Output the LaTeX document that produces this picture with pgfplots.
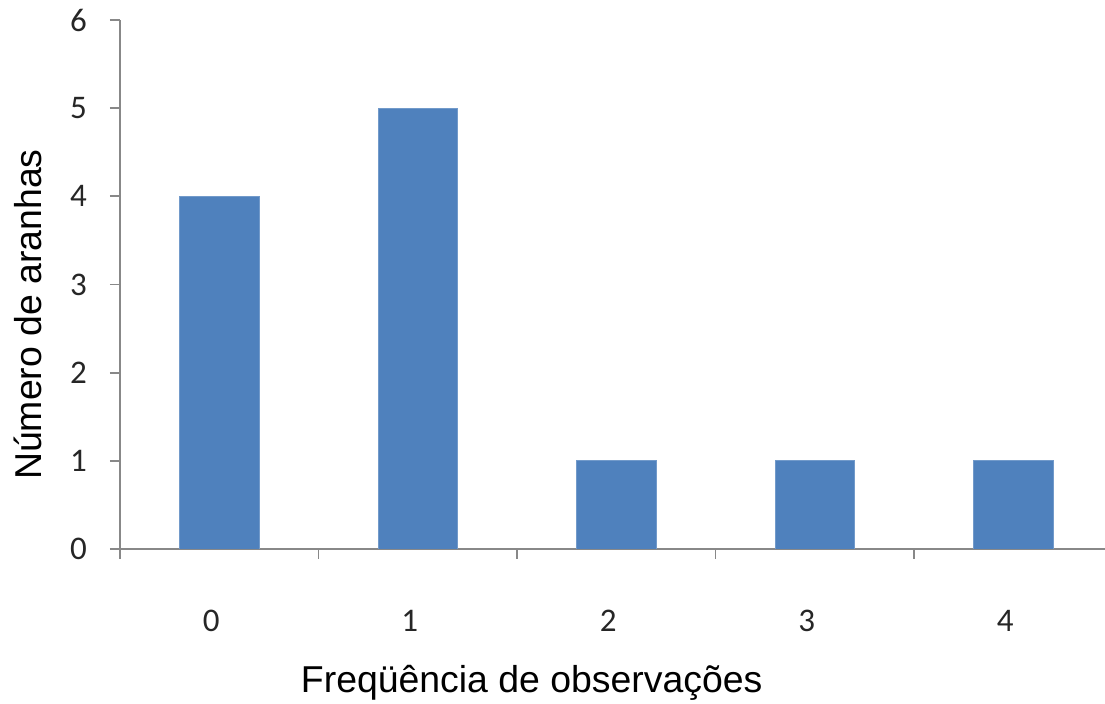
\documentclass[border=0pt]{standalone}
\usepackage{fontspec}
\setmainfont{Carlito}
\newfontfamily\arialfont{Liberation Sans}
\usepackage{pgfplots}
\pgfplotsset{compat=1.18}
\usetikzlibrary{calc}
\definecolor{barblue}{HTML}{4F81BD}
\definecolor{axgray}{HTML}{888888}
\begin{document}
\begin{tikzpicture}
\begin{axis}[
  name=ax,
  scale only axis,
  width=492.5pt, height=264.5pt,
  xmin=-0.5, xmax=4.462,
  ymin=0, ymax=6,
  axis x line*=bottom, axis y line*=left,
  axis line style={axgray, line width=0.9pt, -},
  ytick={0,...,6},
  xtick={-0.5,0.5,1.5,2.5,3.5},
  xticklabels={},
  x tick style={axgray, line width=0.9pt},
  extra x ticks={0,1,2,3,4},
  extra x tick labels={0,1,2,3,4},
  extra x tick style={major tick length=0pt, tick style={draw=none},
    xticklabel style={yshift=-27pt, xshift=-4pt}},
  y tick style={axgray, line width=0.9pt},
  major tick length=5pt,
  tick align=outside,
  /pgf/number format/assume math mode=true,
  tick label style={font=\fontsize{16.5}{19}\selectfont, text=black!85},
  yticklabel style={xshift=-8pt},
  xlabel={Freqüência de observações},
  ylabel={Número de aranhas},
  xlabel style={at={(axis description cs:0.418,-0.253)}, anchor=center, font=\arialfont\fontsize{18.7}{23}\selectfont},
  ylabel style={at={(axis description cs:-0.0934,0.443)}, anchor=center, font=\arialfont\fontsize{18.7}{23}\selectfont},
]
\addplot[ybar, bar width=0.4, fill=barblue, draw=barblue!80!white] coordinates {(0,4) (1,5) (2,1) (3,1) (4,1)};
\end{axis}
\pgfresetboundingbox
\useasboundingbox ($(ax.south west)+(-60pt,-77.5pt)$) rectangle ($(ax.north east)+(0,10pt)$);
\end{tikzpicture}
\end{document}
